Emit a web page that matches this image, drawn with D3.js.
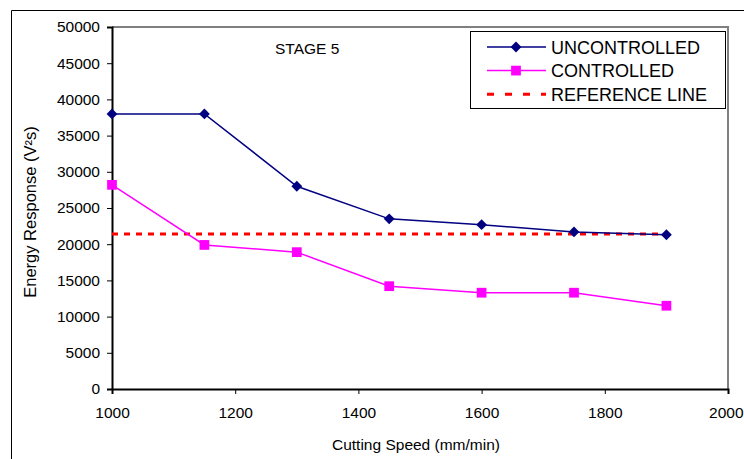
<!DOCTYPE html>
<html>
<head>
<meta charset="utf-8">
<script src="https://cdn.jsdelivr.net/npm/d3@7"></script>
<style>
  body { margin: 0; background: #fff; }
  svg { display: block; font-family: "Liberation Sans", Arial, sans-serif; }
</style>
</head>
<body>
<div id="chart"></div>
<script>
const speeds = [1000, 1150, 1300, 1450, 1600, 1750, 1900]
const uncontrolled = [38000, 38000, 28000, 23500, 22700, 21700, 21300]
const controlled = [28200, 19900, 18900, 14200, 13300, 13300, 11500]
const referenceLine = [21400, 21400, 21400, 21400, 21400, 21400, 21400]
const xTicks = [1000, 1200, 1400, 1600, 1800, 2000]
const yTicks = [0, 5000, 10000, 15000, 20000, 25000, 30000, 35000, 40000, 45000, 50000]

const width = 744, height = 459
const plot = { left: 112, top: 27, right: 728, bottom: 389 }

const svg = d3.select("#chart").append("svg")
  .attr("width", width)
  .attr("height", height)

// outer chart frame (only left and top visible)
svg.append("path")
  .attr("d", `M11.5,${height} V10.5 H${width}`)
  .attr("fill", "none")
  .attr("stroke", "#000")
  .attr("stroke-width", 1)

const x = d3.scaleLinear().domain([1000, 2000]).range([plot.left, plot.right])
const y = d3.scaleLinear().domain([0, 50000]).range([plot.bottom, plot.top])

// plot area border: gray on top and right
svg.append("path")
  .attr("d", `M${plot.left},${plot.top} H${plot.right} V${plot.bottom}`)
  .attr("fill", "none")
  .attr("stroke", "#808080")
  .attr("stroke-width", 2)

const yAxis = svg.append("g")
  .attr("transform", `translate(${plot.left},0)`)
  .call(d3.axisLeft(y).tickValues(yTicks).tickSize(5).tickPadding(7).tickFormat(d3.format("d")))
const xAxis = svg.append("g")
  .attr("transform", `translate(0,${plot.bottom})`)
  .call(d3.axisBottom(x).tickValues(xTicks).tickSize(5).tickPadding(13).tickFormat(d3.format("d")))

for (const ax of [xAxis, yAxis]) {
  ax.select(".domain").attr("stroke", "#000").attr("stroke-width", 2)
  ax.selectAll(".tick line").attr("stroke", "#000")
  ax.selectAll("text").attr("font-size", 15.5).attr("fill", "#000")
    .attr("font-family", "Liberation Sans, Arial, sans-serif")
}
// last x label sits against the right edge
xAxis.selectAll(".tick text").filter(d => d === 2000)
  .attr("text-anchor", "end")
  .attr("x", width - plot.right - 1)

svg.append("text")
  .attr("x", 416).attr("y", 450)
  .attr("text-anchor", "middle")
  .attr("font-size", 15.5)
  .text("Cutting Speed (mm/min)")

svg.append("text")
  .attr("transform", "translate(36,212) rotate(-90)")
  .attr("text-anchor", "middle")
  .attr("font-size", 16.5)
  .text("Energy Response (V²s)")

svg.append("text")
  .attr("x", 275).attr("y", 54)
  .attr("font-size", 15.5)
  .text("STAGE 5")

const line = d3.line().x((d, i) => x(speeds[i])).y(d => y(d))

svg.append("path")
  .datum(referenceLine)
  .attr("d", line)
  .attr("fill", "none")
  .attr("stroke", "#ff0000")
  .attr("stroke-width", 3)
  .attr("stroke-dasharray", "6,6")

svg.append("path")
  .datum(controlled)
  .attr("d", line)
  .attr("fill", "none")
  .attr("stroke", "#ff00ff")
  .attr("stroke-width", 1.5)

svg.append("path")
  .datum(uncontrolled)
  .attr("d", line)
  .attr("fill", "none")
  .attr("stroke", "#000080")
  .attr("stroke-width", 1.5)

const square = d3.symbol().type(d3.symbolSquare).size(95)
const diamond = d3.symbol().type(d3.symbolDiamond2).size(75)

svg.selectAll("path.sq")
  .data(controlled)
  .enter().append("path")
  .attr("class", "sq")
  .attr("d", square)
  .attr("transform", (d, i) => `translate(${x(speeds[i])},${y(d)})`)
  .attr("fill", "#ff00ff")

svg.selectAll("path.dm")
  .data(uncontrolled)
  .enter().append("path")
  .attr("class", "dm")
  .attr("d", diamond)
  .attr("transform", (d, i) => `translate(${x(speeds[i])},${y(d)})`)
  .attr("fill", "#000080")

// legend
const legend = svg.append("g").attr("transform", "translate(470,31)")
legend.append("rect")
  .attr("x", 0.5).attr("y", 0.5)
  .attr("width", 255).attr("height", 77)
  .attr("fill", "#fff")
  .attr("stroke", "#000")

const items = [
  { label: "UNCONTROLLED", color: "#000080", width: 1.5, marker: diamond, dash: null },
  { label: "CONTROLLED", color: "#ff00ff", width: 1.5, marker: square, dash: null },
  { label: "REFERENCE LINE", color: "#ff0000", width: 3, marker: null, dash: "7,11" }
]

items.forEach((it, i) => {
  const cy = 16 + i * 23.6
  legend.append("line")
    .attr("x1", 17).attr("x2", 76)
    .attr("y1", cy).attr("y2", cy)
    .attr("stroke", it.color)
    .attr("stroke-width", it.width)
    .attr("stroke-dasharray", it.dash)
  if (it.marker) {
    legend.append("path")
      .attr("d", it.marker)
      .attr("transform", `translate(46,${cy})`)
      .attr("fill", it.color)
  }
  legend.append("text")
    .attr("x", 81).attr("y", cy + 6.5)
    .attr("font-size", 18)
    .text(it.label)
})
</script>
</body>
</html>
